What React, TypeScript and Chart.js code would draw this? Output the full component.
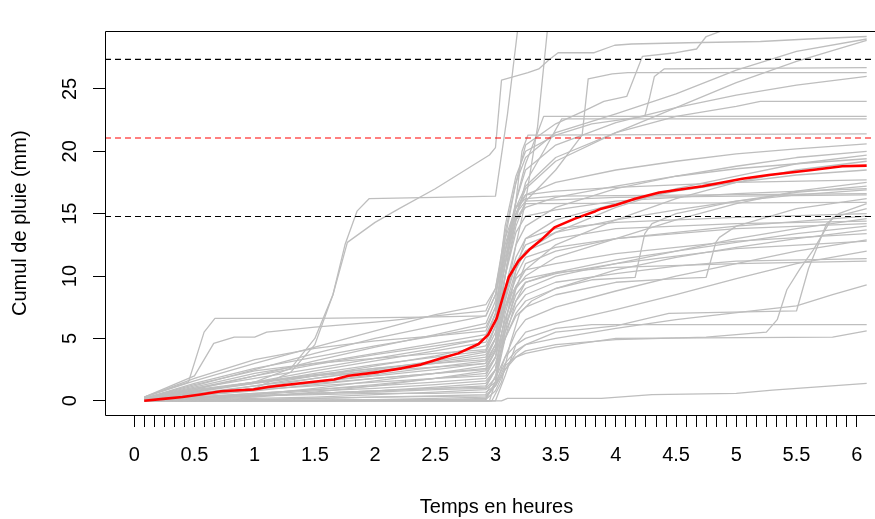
import React, { useEffect, useRef } from 'react';
import { Chart, registerables } from 'chart.js';

Chart.register(...registerables);

// Axis limits (hours / mm)
const X_MIN = -0.243;
const X_MAX = 6.26;
const Y_MIN = -1.14;
const Y_MAX = 29.61;

const yTickValues = [0, 5, 10, 15, 20, 25];
const xLabelValues = [0, 0.5, 1, 1.5, 2, 2.5, 3, 3.5, 4, 4.5, 5, 5.5, 6];
const minorTickCount = 73; // one tick every 5 minutes from 0 to 6 h

const xTitle = 'Temps en heures';
const yTitle = 'Cumul de pluie (mm)';

// Horizontal reference lines
const refLevels = [27.37, 21.07, 14.77];
const refColors = ['#000000', '#FF0000', '#000000'];

// Mean cumulative rainfall (red) : [t, v, t, v, ...]
const meanSeries = [
  0.083, 0, 0.24, 0.15, 0.4, 0.3, 0.55, 0.5, 0.72, 0.76, 0.99, 0.9, 1.11, 1.1, 1.38, 1.4,
  1.66, 1.7, 1.78, 2.0, 2.03, 2.3, 2.22, 2.6, 2.38, 2.9, 2.55, 3.4, 2.69, 3.8, 2.86, 4.55,
  2.94, 5.3, 3.01, 6.6, 3.07, 8.6, 3.11, 9.9, 3.19, 11.2, 3.28, 12.1, 3.38, 12.9, 3.49, 13.9,
  3.66, 14.6, 3.83, 15.2, 3.88, 15.4, 4.0, 15.7, 4.16, 16.2, 4.36, 16.7, 4.72, 17.2, 5.05, 17.8,
  5.27, 18.1, 5.63, 18.5, 5.88, 18.8, 6.083, 18.85,
];

// Ensemble members (grey) : [t, v, t, v, ...]
const m01 = [0.083, 0.2, 0.5, 0.8, 1.0, 1.5, 1.3, 2.6, 1.5, 5.0, 1.65, 8.5, 1.75, 12.5, 1.85, 15.2, 1.95, 16.2, 2.5, 16.3, 3.0, 16.4, 3.1, 23, 3.2, 31, 3.3, 35, 6.083, 45];
const m02 = [0.083, 0.1, 0.6, 0.5, 1.0, 1.0, 1.3, 2.3, 1.5, 4.5, 1.65, 8.5, 1.77, 12.7, 2.0, 14.3, 2.2, 15.4, 2.5, 17, 2.8, 18.8, 2.95, 19.7, 3.0, 20.3, 3.05, 25.7, 3.27, 26.3, 3.36, 26.6, 3.44, 27.3, 3.52, 27.9, 3.82, 27.9, 3.99, 28.5, 4.13, 28.6, 4.6, 28.7, 5.2, 28.8, 5.6, 29.0, 6.083, 29.2];
const m03 = [0.083, 0.1, 0.5, 0.4, 1.0, 0.9, 1.5, 1.5, 2.0, 2.0, 2.5, 2.5, 2.92, 3.0, 3.0, 4.2, 3.08, 8, 3.17, 12.5, 3.25, 16, 3.35, 22, 3.43, 29.6, 3.5, 32, 6.083, 42];
const m04 = [0.083, 0.2, 0.5, 1.0, 1.0, 1.8, 1.5, 2.6, 2.0, 3.4, 2.5, 4.2, 2.92, 5.0, 3.0, 7, 3.08, 13, 3.17, 17.5, 3.25, 20.5, 3.5, 22.2, 3.75, 23.3, 3.9, 24.0, 4.09, 24.4, 4.22, 27.6, 4.5, 27.9, 4.67, 28.2, 4.75, 29.2, 4.92, 29.8, 5.2, 31, 6.083, 33];
const m05 = [0.083, 0.3, 0.5, 1.6, 1.0, 3.0, 1.5, 4.3, 2.0, 5.6, 2.5, 6.9, 2.92, 7.7, 3.0, 9, 3.08, 13.5, 3.17, 17.5, 3.25, 19.5, 3.5, 21.5, 4.0, 23.0, 4.5, 24.6, 5.0, 26.5, 5.5, 28.0, 6.083, 29.0];
const m06 = [0.083, 0.2, 0.5, 1.2, 1.0, 2.5, 1.5, 3.8, 2.0, 5.0, 2.5, 6.0, 2.92, 6.8, 3.0, 8.5, 3.08, 12, 3.17, 15.5, 3.25, 17.2, 3.5, 19.5, 4.0, 21.5, 4.5, 23.5, 5.0, 25.5, 5.5, 27.2, 6.083, 28.9];
const m07 = [0.083, 0.1, 0.5, 0.9, 1.0, 2.0, 1.5, 3.2, 2.0, 4.3, 2.5, 5.3, 2.92, 6.2, 3.0, 8, 3.08, 14, 3.17, 18, 3.25, 20, 3.5, 21.3, 3.8, 22.2, 4.24, 22.8, 4.28, 24.3, 4.32, 26, 4.4, 26.6, 6.083, 26.7];
const m08 = [0.083, 0.2, 0.5, 1.4, 1.0, 2.6, 1.5, 3.5, 2.0, 4.4, 2.5, 5.2, 2.92, 5.9, 3.0, 7.5, 3.08, 12, 3.17, 16, 3.25, 18.5, 3.5, 20.5, 4.0, 22.3, 4.5, 23.5, 5.0, 24.5, 5.5, 25.3, 6.083, 26.0];
const m09 = [0.083, 0.1, 0.5, 0.5, 1.0, 1.2, 1.5, 2.0, 2.0, 2.8, 2.5, 3.6, 2.92, 4.4, 3.0, 6, 3.08, 10, 3.17, 14, 3.25, 16, 3.5, 18.5, 3.72, 21.3, 3.77, 25.8, 3.97, 26.2, 4.1, 26.3, 6.083, 26.3];
const m10 = [0.083, 0.2, 0.5, 1.1, 1.0, 2.2, 1.5, 3.0, 2.0, 3.8, 2.5, 4.6, 2.92, 5.3, 3.0, 7, 3.08, 11, 3.17, 15, 3.25, 17, 3.5, 19.2, 4.0, 21.5, 4.5, 22.8, 5.0, 23.6, 5.2, 24.0, 6.083, 24.0];
const m11 = [0.083, 0.1, 0.5, 0.7, 1.0, 1.5, 1.5, 2.4, 2.0, 3.2, 2.5, 4.0, 2.92, 4.7, 3.0, 6.5, 3.08, 11, 3.17, 16, 3.25, 19, 3.35, 21.5, 3.4, 22.8, 6.083, 22.8];
const m12 = [0.083, 0.1, 0.5, 0.4, 1.0, 1.0, 1.5, 1.8, 2.0, 2.5, 2.5, 3.2, 2.92, 3.9, 3.0, 5.5, 3.08, 10, 3.17, 14.5, 3.25, 17.5, 3.4, 20, 3.55, 22.6, 6.083, 22.6];
const m13 = [0.083, 0.2, 0.5, 0.8, 1.0, 1.4, 1.5, 2.0, 2.0, 2.6, 2.5, 3.1, 2.92, 3.7, 3.0, 5, 3.08, 10, 3.17, 16, 3.22, 20, 3.27, 21.3, 6.083, 21.4];
const m14 = [0.083, 0.3, 0.5, 1.8, 1.0, 3.3, 1.5, 4.2, 2.0, 4.8, 2.5, 5.2, 2.92, 5.6, 3.0, 7.5, 3.08, 11.5, 3.17, 15, 3.25, 16.5, 3.5, 17.5, 4.0, 18.5, 4.5, 19.2, 5.0, 19.8, 5.5, 20.2, 6.083, 20.6];
const m15 = [0.083, 0.1, 0.5, 0.6, 1.0, 1.2, 1.5, 1.8, 2.0, 2.4, 2.5, 3.0, 2.92, 3.5, 3.0, 5, 3.08, 9, 3.17, 12.5, 3.25, 14, 3.5, 15.5, 4.0, 17, 4.5, 18, 5.0, 18.8, 5.5, 19.5, 6.083, 20.0];
const m16 = [0.083, 0, 0.5, 0.2, 1.0, 0.5, 1.5, 1.0, 2.0, 1.6, 2.5, 2.2, 2.92, 2.8, 3.0, 4, 3.08, 7.5, 3.17, 10.5, 3.25, 12, 3.5, 13.5, 4.0, 15.5, 4.5, 17, 5.0, 18, 5.5, 19, 6.083, 19.7];
const m17 = [0.083, 0.2, 0.5, 1.3, 1.0, 2.4, 1.5, 3.0, 2.0, 3.4, 2.5, 3.8, 2.92, 4.1, 3.0, 6, 3.08, 11, 3.17, 14.5, 3.25, 15.5, 3.5, 16.3, 4.0, 17.2, 4.5, 18, 5.0, 18.6, 5.5, 19.0, 6.083, 19.4];
const m18 = [0.083, 0, 0.5, 0.1, 1.0, 0.3, 1.5, 0.7, 2.0, 1.2, 2.5, 1.8, 2.92, 2.4, 3.0, 3.5, 3.08, 6.5, 3.17, 9.2, 3.25, 10.5, 3.5, 12.5, 4.0, 14.5, 4.5, 16.2, 5.0, 17.5, 5.5, 18.5, 6.083, 19.2];
const m19 = [0.083, 0.1, 0.5, 0.5, 1.0, 1.0, 1.5, 1.5, 2.0, 2.1, 2.5, 2.7, 2.92, 3.2, 3.0, 4.5, 3.08, 8.5, 3.17, 11.5, 3.25, 13, 3.5, 14.5, 4.0, 15.8, 4.5, 16.8, 5.0, 17.5, 5.5, 18.1, 6.083, 18.5];
const m20 = [0.083, 0.3, 0.45, 1.5, 0.58, 5.5, 0.67, 6.6, 1.5, 6.6, 2.4, 6.7, 2.92, 6.8, 3.0, 8.5, 3.08, 12.5, 3.17, 15.5, 3.25, 16.5, 3.5, 16.8, 4.0, 17.1, 5.0, 17.5, 6.083, 17.7];
const m21 = [0.083, 0, 0.5, 0.3, 1.0, 0.6, 1.5, 0.9, 2.0, 1.3, 2.5, 1.8, 2.92, 2.2, 3.0, 3.5, 3.08, 6.5, 3.17, 9, 3.25, 10, 3.5, 11.5, 4.0, 13, 4.5, 14.5, 5.0, 15.8, 5.5, 16.8, 6.083, 17.5];
const m22 = [0.083, 0.1, 0.5, 0.3, 1.0, 0.5, 1.5, 0.8, 2.0, 1.0, 2.5, 1.3, 2.92, 1.6, 3.0, 2.5, 3.08, 5, 3.17, 7, 3.25, 8, 3.5, 9, 3.8, 9.7, 4.16, 9.9, 4.24, 13.4, 4.3, 14.2, 4.5, 15, 5.0, 16, 5.5, 16.7, 6.083, 17.2];
const m23 = [0.083, 0.2, 0.5, 0.6, 1.0, 0.9, 1.5, 1.2, 2.0, 1.5, 2.5, 1.8, 2.92, 2.0, 3.0, 3.5, 3.08, 8, 3.17, 11, 3.25, 12.5, 3.5, 13.5, 4.0, 14.5, 4.5, 15.3, 5.0, 16, 5.5, 16.5, 6.083, 16.9];
const m24 = [0.083, 0.3, 0.5, 2.0, 0.66, 4.6, 0.83, 5.1, 1.0, 5.1, 1.1, 5.5, 1.5, 5.9, 2.0, 6.3, 2.5, 6.8, 2.92, 7.2, 3.0, 9, 3.08, 13, 3.17, 15.5, 3.25, 16.2, 3.5, 16.4, 6.083, 16.6];
const m25 = [0.083, 0.2, 0.5, 1.0, 1.0, 2.0, 1.5, 2.9, 2.0, 3.7, 2.5, 4.4, 2.92, 5.0, 3.0, 7, 3.08, 12, 3.17, 15, 3.25, 16, 4.0, 16.3, 6.083, 16.5];
const m26 = [0.083, 0, 0.5, 0.2, 1.0, 0.4, 1.5, 0.6, 2.0, 0.8, 2.5, 1.1, 2.92, 1.4, 3.0, 2.5, 3.08, 5, 3.17, 6.8, 3.25, 7.5, 3.5, 8.5, 4.0, 9.5, 4.5, 9.8, 4.75, 9.9, 4.83, 12.7, 4.86, 13.1, 5.0, 14, 5.5, 15.4, 6.083, 16.2];
const m27 = [0.083, 0, 0.5, 0.1, 1.0, 0.2, 1.5, 0.3, 2.0, 0.5, 2.5, 0.7, 2.92, 0.9, 3.0, 1.5, 3.08, 3, 3.17, 4, 3.25, 4.5, 3.5, 5.5, 4.0, 6.0, 4.44, 7.0, 5.5, 7.2, 5.6, 10.6, 5.75, 14.2, 5.85, 15.0, 6.083, 15.8];
const m28 = [0.083, 0.1, 0.5, 0.3, 1.0, 0.4, 1.5, 0.5, 2.0, 0.6, 2.5, 0.6, 2.92, 0.7, 3.0, 1.2, 3.08, 2.5, 3.17, 3.5, 3.25, 4.0, 3.5, 4.5, 4.0, 4.9, 4.75, 5.1, 5.0, 5.3, 5.25, 5.5, 5.34, 6.5, 5.42, 8.9, 5.53, 10.6, 5.64, 12.1, 5.75, 13.9, 5.8, 14.7, 6.083, 15.4];
const m29 = [0.083, 0, 2.95, 0, 3.0, 1.5, 3.08, 6, 3.17, 10.5, 3.25, 13, 3.5, 13.8, 4.0, 14.3, 5.0, 14.7, 6.083, 15.0];
const m30 = [0.083, 0, 1.5, 0, 2.5, 0.05, 2.92, 0.1, 3.0, 1.5, 3.08, 5.5, 3.17, 9, 3.25, 11, 3.5, 12, 4.0, 13, 5.0, 14, 6.083, 14.8];
const m31 = [0.083, 0.1, 0.5, 0.3, 1.0, 0.6, 1.5, 0.9, 2.0, 1.2, 2.5, 1.5, 2.92, 1.8, 3.0, 3, 3.08, 6, 3.17, 8, 3.25, 9, 3.5, 10, 4.0, 11, 4.5, 12, 5.0, 13, 5.5, 13.8, 6.083, 14.6];
const m32 = [0.083, 0.2, 0.5, 0.9, 1.0, 1.5, 1.5, 2.0, 2.0, 2.4, 2.5, 2.7, 2.92, 3.0, 3.0, 4.5, 3.08, 8.5, 3.17, 11, 3.25, 12, 3.5, 13, 4.0, 13.8, 5.0, 14.2, 6.083, 14.4];
const m33 = [0.083, 0, 2.5, 0.1, 2.92, 0.2, 3.0, 1.5, 3.08, 5, 3.17, 8, 3.25, 9.5, 3.5, 10.3, 4.0, 11.3, 4.5, 12, 5.0, 12.7, 5.5, 13.4, 6.083, 14.0];
const m34 = [0.083, 0, 2.97, 0, 3.05, 1.5, 3.12, 4.5, 3.2, 7, 3.3, 8, 3.5, 9, 4.0, 10.5, 4.5, 11.5, 5.0, 12.3, 5.5, 13, 6.083, 13.7];
const m35 = [0.083, 0.1, 0.5, 0.4, 1.0, 0.8, 1.5, 1.3, 2.0, 1.8, 2.5, 2.2, 2.92, 2.6, 3.0, 4, 3.08, 7.5, 3.17, 9.8, 3.25, 10.5, 3.5, 11, 4.0, 11.8, 4.5, 12.3, 5.0, 12.8, 6.083, 13.4];
const m36 = [0.083, 0, 2.0, 0.1, 2.5, 0.2, 2.92, 0.3, 3.0, 1.2, 3.08, 3.5, 3.17, 5.5, 3.25, 6.5, 3.5, 7.5, 4.0, 8.8, 4.5, 10, 5.0, 11, 5.5, 12, 6.083, 12.9];
const m37 = [0.083, 0.1, 0.5, 0.2, 1.0, 0.4, 1.5, 0.6, 2.0, 0.8, 2.5, 1.0, 2.92, 1.2, 3.0, 2.5, 3.08, 6, 3.17, 8.5, 3.25, 9.5, 3.5, 10.2, 4.0, 11, 5.0, 12.2, 6.083, 12.8];
const m38 = [0.083, 0, 3.0, 0, 3.08, 2, 3.17, 4.5, 3.25, 5.5, 3.5, 6.2, 4.0, 7.3, 4.5, 8.5, 5.0, 9.8, 5.5, 11, 6.083, 12.0];
const m39 = [0.083, 0, 1.0, 0.1, 1.5, 0.2, 2.0, 0.3, 2.5, 0.4, 2.92, 0.5, 3.0, 2, 3.08, 5.5, 3.17, 7.5, 3.25, 8.5, 3.5, 9.5, 4.0, 10.2, 4.5, 10.8, 5.0, 11.2, 6.083, 11.4];
const m40 = [0.083, 0.1, 0.5, 0.5, 1.0, 1.0, 1.5, 1.4, 2.0, 1.8, 2.5, 2.2, 2.92, 2.5, 3.0, 4, 3.08, 7.5, 3.17, 9.2, 3.25, 9.8, 3.5, 10.3, 4.0, 10.7, 5.0, 11, 6.083, 11.2];
const m41 = [0.083, 0, 2.5, 0.05, 2.92, 0.1, 3.0, 0.8, 3.08, 2.5, 3.17, 3.8, 3.25, 4.5, 3.5, 5.0, 4.0, 5.8, 4.5, 6.5, 5.13, 7.2, 5.5, 7.6, 5.8, 8.5, 6.083, 9.3];
const m42 = [0.083, 0.1, 0.5, 0.2, 1.0, 0.4, 1.5, 0.6, 2.0, 0.7, 2.5, 0.9, 2.92, 1.0, 3.0, 1.8, 3.08, 3.5, 3.17, 4.5, 3.25, 5.0, 3.5, 5.8, 3.8, 6.1, 6.083, 6.1];
const m43 = [0.083, 0, 1.0, 0.1, 2.0, 0.3, 2.92, 0.4, 3.0, 1.2, 3.08, 2.8, 3.17, 3.5, 3.25, 3.8, 3.5, 4.3, 4.0, 5.0, 5.8, 5.1, 6.083, 5.6];
const m44 = [0.083, 0, 3.05, 0, 3.1, 0.2, 3.88, 0.2, 4.3, 0.5, 5.0, 0.6, 5.3, 0.85, 5.65, 1.1, 6.083, 1.4];
const m45 = [0.083, 0.2, 0.5, 0.8, 1.0, 1.5, 1.5, 2.1, 2.0, 2.6, 2.5, 3.0, 2.92, 3.3, 3.0, 5, 3.08, 10, 3.17, 13.5, 3.25, 14.8, 3.5, 15.3, 4.0, 16, 5.0, 16.6, 6.083, 17.0];
const m46 = [0.083, 0.1, 0.5, 0.7, 1.0, 1.4, 1.5, 2.2, 2.0, 2.9, 2.5, 3.5, 2.92, 4.0, 3.0, 6, 3.08, 11, 3.17, 14.5, 3.25, 15.8, 6.083, 15.9];
const m47 = [0.083, 0, 0.5, 0.2, 1.0, 0.4, 1.5, 0.6, 2.0, 0.8, 2.5, 1.0, 2.92, 1.1, 3.0, 2.5, 3.08, 7, 3.17, 10, 3.25, 11.5, 3.5, 12.3, 4.0, 13, 5.0, 13.8, 6.083, 14.2];

const members = [
  m01, m02, m03, m04, m05, m06, m07, m08, m09, m10, m11, m12, m13, m14, m15, m16,
  m17, m18, m19, m20, m21, m22, m23, m24, m25, m26, m27, m28, m29, m30, m31, m32,
  m33, m34, m35, m36, m37, m38, m39, m40, m41, m42, m43, m44, m45, m46, m47,
];

function toPoints(flat: number[]) {
  const pts: { x: number; y: number }[] = [];
  for (let i = 0; i + 1 < flat.length; i += 2) pts.push({ x: flat[i], y: flat[i + 1] });
  return pts;
}

const FONT = { family: "'Liberation Sans', Arial, Helvetica, sans-serif", size: 20 };

const boxPlugin = {
  id: 'plotBox',
  afterDatasetsDraw(chart: any) {
    const { ctx, chartArea } = chart;
    ctx.save();
    ctx.strokeStyle = '#000';
    ctx.lineWidth = 1;
    const l = Math.round(chartArea.left) + 0.5;
    const t = Math.round(chartArea.top) + 0.5;
    const b = Math.round(chartArea.bottom) + 0.5;
    const r = Math.round(chartArea.right) + 0.5;
    ctx.beginPath();
    ctx.moveTo(r, t);
    ctx.lineTo(l, t);
    ctx.lineTo(l, b);
    ctx.lineTo(r, b);
    ctx.stroke();
    ctx.restore();
  },
};

export default function App() {
  const ref = useRef<HTMLCanvasElement | null>(null);

  useEffect(() => {
    if (!ref.current) return;
    const datasets: any[] = [];
    refLevels.forEach((lvl, i) => {
      datasets.push({
        data: [
          { x: X_MIN, y: lvl },
          { x: X_MAX, y: lvl },
        ],
        borderColor: refColors[i],
        borderWidth: 1.1,
        borderDash: [6, 4],
        pointRadius: 0,
        order: 0,
      });
    });
    datasets.push({
      data: toPoints(meanSeries),
      borderColor: '#FF0000',
      borderWidth: 2.6,
      pointRadius: 0,
      borderJoinStyle: 'round',
      order: 1,
    });
    members.forEach((m) => {
      datasets.push({
        data: toPoints(m),
        borderColor: '#BEBEBE',
        borderWidth: 1.3,
        pointRadius: 0,
        borderJoinStyle: 'round',
        order: 2,
      });
    });

    const chart = new Chart(ref.current, {
      type: 'line',
      data: { datasets },
      plugins: [boxPlugin],
      options: {
        responsive: false,
        animation: false,
        devicePixelRatio: 1,
        layout: { padding: { top: 2, left: 0, right: 0, bottom: 0 } },
        plugins: { legend: { display: false }, tooltip: { enabled: false } },
        elements: { line: { tension: 0 } },
        scales: {
          x: {
            type: 'linear',
            min: X_MIN,
            max: X_MAX,
            afterBuildTicks: (scale: any) => {
              const ticks = [];
              for (let i = 0; i < minorTickCount; i++) ticks.push({ value: i / 12 });
              scale.ticks = ticks;
            },
            afterFit: (scale: any) => {
              scale.height = 104;
            },
            border: { display: false },
            grid: {
              drawOnChartArea: false,
              drawTicks: true,
              tickLength: 12,
              color: '#000',
              lineWidth: 1,
            },
            ticks: {
              autoSkip: false,
              maxRotation: 0,
              minRotation: 0,
              padding: 16,
              color: '#000',
              font: FONT,
              callback: (value: any) => {
                const v = Number(value);
                const found = xLabelValues.find((lv) => Math.abs(lv - v) < 1e-6);
                return found === undefined ? '' : String(found);
              },
            },
            title: {
              display: true,
              text: xTitle,
              color: '#000',
              font: FONT,
              padding: { top: 1.5, bottom: 0 },
            },
          },
          y: {
            type: 'linear',
            min: Y_MIN,
            max: Y_MAX,
            afterBuildTicks: (scale: any) => {
              scale.ticks = yTickValues.map((v) => ({ value: v }));
            },
            afterFit: (scale: any) => {
              scale.width = 97;
            },
            border: { display: false },
            grid: {
              drawOnChartArea: false,
              drawTicks: true,
              tickLength: 12,
              color: '#000',
              lineWidth: 1,
            },
            ticks: {
              minRotation: 90,
              maxRotation: 90,
              crossAlign: 'center',
              padding: 11.4,
              color: '#000',
              font: FONT,
              callback: (value: any) => String(value),
            },
            title: {
              display: true,
              text: yTitle,
              color: '#000',
              font: FONT,
              padding: { top: 0, bottom: 0 },
            },
          },
        },
      } as any,
    });
    return () => chart.destroy();
  }, []);

  return (
    <div
      style={{
        position: 'fixed',
        left: 8,
        top: 8,
        width: 867,
        height: 511,
        overflow: 'hidden',
        background: '#fff',
      }}
    >
      <canvas ref={ref} width={880} height={511} style={{ display: 'block' }} />
    </div>
  );
}
